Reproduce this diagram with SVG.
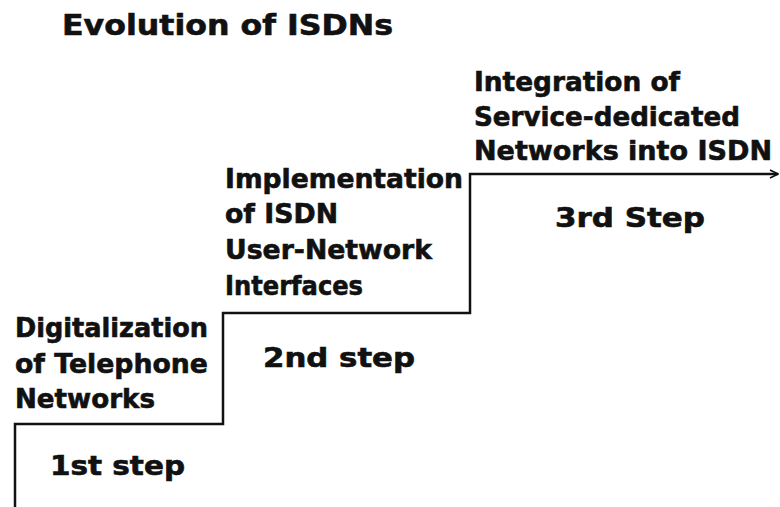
<svg xmlns="http://www.w3.org/2000/svg" width="780" height="507" viewBox="0 0 780 507">
  <style>
    text { font-family: "DejaVu Sans", "Liberation Sans", sans-serif; font-weight: bold; fill: #111; stroke: #111; stroke-width: 0.6; font-size: 26px; }
    .title { font-size: 28px; }
    .stair { fill: none; stroke: #111; stroke-width: 2.5; stroke-linejoin: miter; }
  </style>
  <defs>
    <marker id="open-arrow" viewBox="0 0 10 10" refX="9" refY="5" markerWidth="10" markerHeight="10" markerUnits="userSpaceOnUse" orient="auto">
      <path d="M1,1 L9,5 L1,9" fill="none" stroke="#111" stroke-width="1.6"/>
    </marker>
  </defs>

  <rect width="780" height="507" fill="#fff"/>

  <g id="title">
    <text class="title" x="62" y="35" textLength="331" lengthAdjust="spacingAndGlyphs">Evolution of ISDNs</text>
  </g>

  <!-- staircase rising to the right -->
  <g id="connectors">
    <path class="stair" d="M15,507 V424 H223 V313 H470 V174 H778" marker-end="url(#open-arrow)"/>
  </g>

  <g id="step1-label">
    <text x="15" y="337" textLength="193" lengthAdjust="spacingAndGlyphs">Digitalization</text>
    <text x="15" y="373" textLength="193" lengthAdjust="spacingAndGlyphs">of Telephone</text>
    <text x="15" y="408" textLength="140" lengthAdjust="spacingAndGlyphs">Networks</text>
  </g>
  <g id="step1">
    <text x="50" y="475" textLength="135" lengthAdjust="spacingAndGlyphs">1st step</text>
  </g>

  <g id="step2-label">
    <text x="225" y="188" textLength="238" lengthAdjust="spacingAndGlyphs">Implementation</text>
    <text x="225" y="223" textLength="113" lengthAdjust="spacingAndGlyphs">of ISDN</text>
    <text x="225" y="259" textLength="207" lengthAdjust="spacingAndGlyphs">User-Network</text>
    <text x="225" y="295" textLength="138" lengthAdjust="spacingAndGlyphs">Interfaces</text>
  </g>
  <g id="step2">
    <text x="263" y="367" textLength="152" lengthAdjust="spacingAndGlyphs">2nd step</text>
  </g>

  <g id="step3-label">
    <text x="474" y="91" textLength="206" lengthAdjust="spacingAndGlyphs">Integration of</text>
    <text x="474" y="126" textLength="266" lengthAdjust="spacingAndGlyphs">Service-dedicated</text>
    <text x="474" y="160" textLength="298" lengthAdjust="spacingAndGlyphs">Networks into ISDN</text>
  </g>
  <g id="step3">
    <text x="555" y="227" textLength="150" lengthAdjust="spacingAndGlyphs">3rd Step</text>
  </g>
</svg>
